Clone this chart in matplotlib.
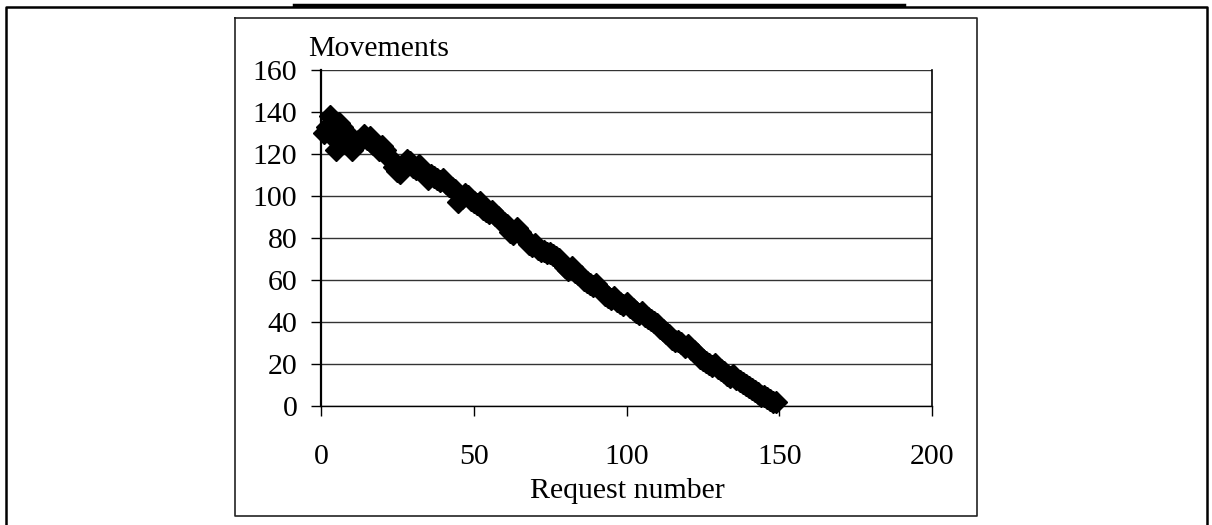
import matplotlib
matplotlib.use("Agg")
import matplotlib.pyplot as plt
from matplotlib.lines import Line2D

plt.rcParams['font.family'] = ['Liberation Serif', 'DejaVu Serif']

request = list(range(1, 150))
movements = [
    130, 133, 138, 128, 122, 135, 133, 131, 126, 122,
    124, 126, 127, 129, 127, 128, 125, 124, 122, 124,
    122, 119, 117, 114, 112, 111, 115, 117, 116, 114,
    113, 115, 112, 111, 108, 110, 109, 108, 107, 108,
    106, 105, 104, 103, 97, 99, 101, 100, 98, 97,
    96, 97, 94, 93, 92, 93, 91, 90, 88, 87,
    86, 83, 82, 85, 83, 81, 79, 77, 76, 77,
    75, 74, 74, 73, 73, 72, 71, 70, 68, 66,
    65, 66, 64, 63, 62, 60, 59, 58, 57, 58,
    56, 55, 53, 52, 51, 52, 50, 49, 48, 49,
    47, 46, 45, 44, 45, 43, 42, 41, 40, 39,
    37, 36, 35, 34, 32, 31, 31, 30, 28, 29,
    27, 26, 25, 23, 22, 21, 20, 19, 20, 18,
    17, 16, 15, 14, 15, 13, 12, 11, 10, 9,
    8, 7, 6, 5, 5, 4, 3, 2, 2,
]
x_ticks = [0, 50, 100, 150, 200]
y_ticks = [0, 20, 40, 60, 80, 100, 120, 140, 160]

W, H = 1212, 525
fig = plt.figure(figsize=(W / 100, H / 100), dpi=100)

def fx(px):
    return px / W

def fy(py):
    return 1 - py / H

FS = 21.5

ax = fig.add_axes([fx(321), fy(406), fx(932) - fx(321), fy(70) - fy(406)])
ax.set_xlim(0, 200)
ax.set_ylim(0, 160)
ax.set_xticks(x_ticks)
ax.set_yticks(y_ticks)
ax.yaxis.grid(True, color='#333333', linewidth=1.0)
ax.set_axisbelow(True)
ax.spines['top'].set_visible(False)
ax.spines['left'].set_linewidth(1.6)
ax.spines['right'].set_linewidth(1.2)
ax.spines['bottom'].set_linewidth(1.0)
ax.tick_params(axis='both', direction='out', length=7, width=1, labelsize=FS, colors='black')
ax.tick_params(axis='x', pad=20)
ax.tick_params(axis='y', pad=10)

ax.plot(request, movements, linestyle='none', marker='D', markersize=11,
        color='black', markeredgecolor='black', clip_on=False)

fig.text(fx(308), fy(56), 'Movements', fontsize=FS, ha='left', va='baseline')
fig.text(fx(627), fy(498), 'Request number', fontsize=FS, ha='center', va='baseline')

# chart area box
box = [(235, 18), (977, 18), (977, 516), (235, 516), (235, 18)]
fig.add_artist(Line2D([fx(p[0]) for p in box], [fy(p[1]) for p in box],
                      color='#222222', linewidth=1.2))
# outer frame
fig.add_artist(Line2D([fx(6), fx(6), fx(1207), fx(1207)], [fy(530), fy(7), fy(7), fy(530)],
                      color='black', linewidth=1.8))
fig.add_artist(Line2D([fx(294), fx(904)], [fy(5), fy(5)], color='black', linewidth=2.5))

fig.savefig('out.png', dpi=100, facecolor='white')
